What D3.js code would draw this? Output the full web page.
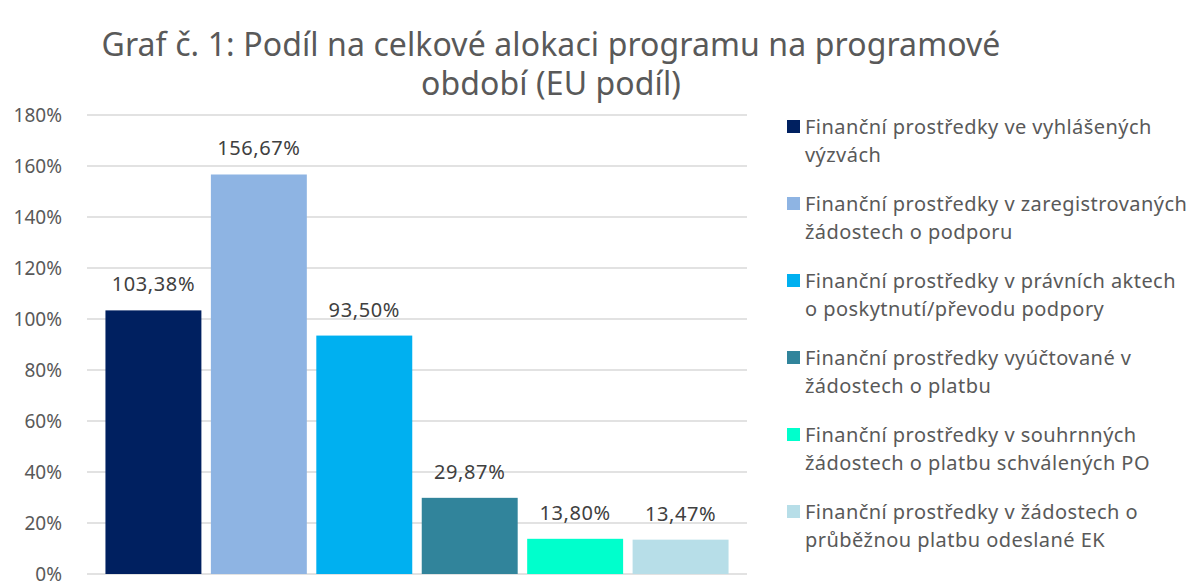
<!DOCTYPE html>
<html>
<head>
<meta charset="utf-8">
<script src="https://cdn.jsdelivr.net/npm/d3@7"></script>
<style>
body{margin:0;background:#fff;}
text{font-family:"Noto Sans","Open Sans",sans-serif;}
</style>
</head>
<body>
<svg id="chart" width="1186" height="581"></svg>
<script>
var categories = ["Finanční prostředky ve vyhlášených výzvách",
    "Finanční prostředky v zaregistrovaných žádostech o podporu",
    "Finanční prostředky v právních aktech o poskytnutí/převodu podpory",
    "Finanční prostředky vyúčtované v žádostech o platbu",
    "Finanční prostředky v souhrnných žádostech o platbu schválených PO",
    "Finanční prostředky v žádostech o průběžnou platbu odeslané EK"];
var legendLines = [["Finanční prostředky ve vyhlášených", "výzvách"],
    ["Finanční prostředky v zaregistrovaných", "žádostech o podporu"],
    ["Finanční prostředky v právních aktech", "o poskytnutí/převodu podpory"],
    ["Finanční prostředky vyúčtované v", "žádostech o platbu"],
    ["Finanční prostředky v souhrnných", "žádostech o platbu schválených PO"],
    ["Finanční prostředky v žádostech o", "průběžnou platbu odeslané EK"]];
var values = [103.38, 156.67, 93.50, 29.87, 13.80, 13.47];
var colors = ["#002060", "#8EB4E3", "#00B0F0", "#31849B", "#00FFCC", "#B7DEE8"];
var ticks = [0, 20, 40, 60, 80, 100, 120, 140, 160, 180];
var titleLines = ["Graf č. 1: Podíl na celkové alokaci programu na programové", "období (EU podíl)"];

var svg = d3.select("#chart");
var plotL = 87, plotR = 747, plotT = 115, plotB = 574;

var y = d3.scaleLinear().domain([0, 180]).range([plotB, plotT]);
var x = d3.scaleBand().domain(categories).range([plotL, plotR])
    .paddingInner(0.09).paddingOuter(0.175);

// gridlines
svg.append("g").selectAll("line").data(ticks).enter().append("line")
    .attr("x1", plotL).attr("x2", plotR)
    .attr("y1", function(d){ return y(d); }).attr("y2", function(d){ return y(d); })
    .attr("stroke", "#d9d9d9").attr("stroke-width", 1.5);

// y axis labels
var yAxis = d3.axisLeft(y).tickValues(ticks).tickSize(0).tickPadding(0)
    .tickFormat(function(d){ return d + "%"; });
var ya = svg.append("g").attr("transform", "translate(62,0)").call(yAxis);
ya.select(".domain").remove();
ya.selectAll("text").attr("fill", "#595959").style("font-size", "19px")
    .style("font-family", "'Noto Sans', sans-serif");

// bars
svg.append("g").selectAll("rect").data(values).enter().append("rect")
    .attr("x", function(d, i){ return x(categories[i]); })
    .attr("y", function(d){ return y(d); })
    .attr("width", x.bandwidth())
    .attr("height", function(d){ return plotB - y(d); })
    .attr("fill", function(d, i){ return colors[i]; });

// value labels
svg.append("g").selectAll("text").data(values).enter().append("text")
    .attr("x", function(d, i){ return x(categories[i]) + x.bandwidth() / 2; })
    .attr("y", function(d){ return y(d) - 19; })
    .attr("text-anchor", "middle").attr("fill", "#404040")
    .style("font-size", "20px").style("letter-spacing", "0.6px")
    .text(function(d){ return d.toFixed(2).replace(".", ",") + "%"; });

// title
svg.append("g").selectAll("text").data(titleLines).enter().append("text")
    .attr("x", 551).attr("y", function(d, i){ return 56 + i * 39; })
    .attr("text-anchor", "middle").attr("fill", "#595959")
    .style("font-size", "32px").style("letter-spacing", "0.1px")
    .text(function(d){ return d; });

// legend
var lg = svg.append("g").selectAll("g").data(legendLines).enter().append("g")
    .attr("transform", function(d, i){ return "translate(787," + (127 + i * 77) + ")"; });
lg.append("rect").attr("x", 0).attr("y", -7).attr("width", 13).attr("height", 13)
    .attr("fill", function(d, i){ return colors[i]; });
lg.selectAll("text").data(function(d){ return d; }).enter().append("text")
    .attr("x", 18).attr("y", function(d, j){ return 7 + j * 28; })
    .attr("fill", "#595959").style("font-size", "20px").style("letter-spacing", "0.45px")
    .text(function(d){ return d; });
</script>
</body>
</html>
